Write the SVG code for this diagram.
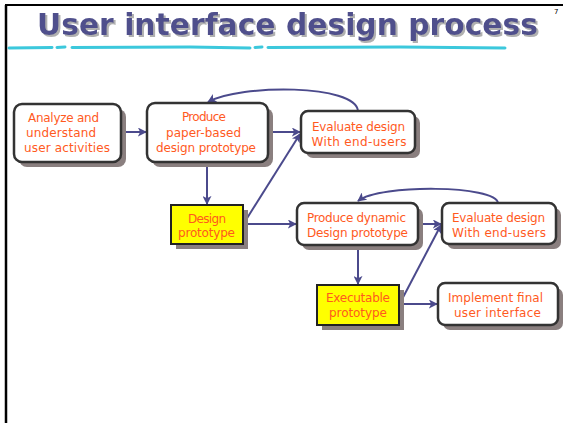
<svg xmlns="http://www.w3.org/2000/svg" width="563" height="423" viewBox="0 0 563 423">
<style>
.shadow{fill:#8a7f7f}
.box{fill:#ffffff;stroke:#333333;stroke-width:2.5}
.ybox{fill:#ffff00;stroke:#222222;stroke-width:2}
.lbl{font-family:"DejaVu Sans",sans-serif;font-size:12px;fill:#ff5a1e;text-anchor:middle}
.conn{fill:none;stroke:#4b4a8c;stroke-width:2}
</style>
<defs>
<marker id="arr" viewBox="0 0 10 10" refX="9" refY="5" markerWidth="9" markerHeight="9" markerUnits="userSpaceOnUse" orient="auto">
<path d="M0,0 L10,5 L0,10 L2.5,5 Z" fill="#4b4a8c"/>
</marker>
<filter id="tshadow" x="-5%" y="-20%" width="110%" height="140%">
<feDropShadow dx="2" dy="2" stdDeviation="0.5" flood-color="#b0b0b0" flood-opacity="1"/>
</filter>
</defs>
<rect width="563" height="423" fill="#ffffff"/>
<!-- frame -->
<path d="M5,5 H563" stroke="#000" stroke-width="2" fill="none"/>
<path d="M6,5 V423" stroke="#000" stroke-width="2.5" fill="none"/>
<!-- title -->
<g id="title">
<text x="37" y="35" font-family="DejaVu Sans,sans-serif" font-size="30" font-weight="bold" fill="#50508c" filter="url(#tshadow)" textLength="501" lengthAdjust="spacingAndGlyphs">User interface design process</text>
<path d="M9,48 L52,47.5 M57,47.5 L65,47 M72,47.5 L190,47 L250,48 M255,47.5 L262,47 M268,47.5 L400,47 L505,48" stroke="#3cc8dc" stroke-width="3" fill="none" stroke-linecap="round"/>
<text x="554" y="14" font-family="DejaVu Sans,sans-serif" font-size="7" fill="#000">7</text>
</g>
<!-- connectors -->
<g id="connectors">
<path class="conn" d="M121,132 H146" marker-end="url(#arr)"/>
<path class="conn" d="M268,132 H300" marker-end="url(#arr)"/>
<path class="conn" d="M244,223 L300,134" marker-end="url(#arr)"/>
<path class="conn" d="M358,111 C356,84 240,84 208,102" marker-end="url(#arr)"/>
<path class="conn" d="M207,162 V204" marker-end="url(#arr)"/>
<path class="conn" d="M243,224 H296" marker-end="url(#arr)"/>
<path class="conn" d="M418,224 H441" marker-end="url(#arr)"/>
<path class="conn" d="M399,305 L441,225" marker-end="url(#arr)"/>
<path class="conn" d="M498,203 C496,185 380,184 358,201" marker-end="url(#arr)"/>
<path class="conn" d="M358,245 V284" marker-end="url(#arr)"/>
<path class="conn" d="M399,304 H437" marker-end="url(#arr)"/>
</g>
<!-- nodes -->
<g id="analyze">
<rect class="shadow" x="19" y="109" width="107" height="58" rx="8"/>
<rect class="box" x="14" y="104" width="107" height="58" rx="8"/>
<text class="lbl" x="63.5" y="122" textLength="71" lengthAdjust="spacing">Analyze and</text>
<text class="lbl" x="61" y="137" textLength="70" lengthAdjust="spacing">understand</text>
<text class="lbl" x="67" y="152" textLength="86" lengthAdjust="spacing">user activities</text>
</g>
<g id="produce-paper">
<rect class="shadow" x="152" y="108" width="121" height="59" rx="8"/>
<rect class="box" x="147" y="103" width="121" height="59" rx="8"/>
<text class="lbl" x="204" y="121" textLength="44" lengthAdjust="spacing">Produce</text>
<text class="lbl" x="203.5" y="137" textLength="75" lengthAdjust="spacing">paper-based</text>
<text class="lbl" x="206" y="152" textLength="100" lengthAdjust="spacing">design prototype</text>
</g>
<g id="evaluate-1">
<rect class="shadow" x="306" y="116" width="114" height="42" rx="7"/>
<rect class="box" x="301" y="111" width="114" height="42" rx="7"/>
<text class="lbl" x="358.5" y="131" textLength="93" lengthAdjust="spacing">Evaluate design</text>
<text class="lbl" x="359" y="145.5" textLength="95" lengthAdjust="spacing">With end-users</text>
</g>
<g id="design-prototype">
<rect class="shadow" x="176" y="210" width="72" height="39"/>
<rect class="ybox" x="171" y="205" width="72" height="39"/>
<text class="lbl" x="207" y="223" textLength="38" lengthAdjust="spacing">Design</text>
<text class="lbl" x="206.5" y="237" textLength="57" lengthAdjust="spacing">prototype</text>
</g>
<g id="produce-dynamic">
<rect class="shadow" x="302" y="208" width="121" height="42" rx="7"/>
<rect class="box" x="297" y="203" width="121" height="42" rx="7"/>
<text class="lbl" x="356.5" y="222" textLength="99" lengthAdjust="spacing">Produce dynamic</text>
<text class="lbl" x="357.5" y="237" textLength="101" lengthAdjust="spacing">Design prototype</text>
</g>
<g id="evaluate-2">
<rect class="shadow" x="447" y="208" width="114" height="41" rx="7"/>
<rect class="box" x="442" y="203" width="114" height="41" rx="7"/>
<text class="lbl" x="498.5" y="222" textLength="93" lengthAdjust="spacing">Evaluate design</text>
<text class="lbl" x="499" y="237" textLength="94" lengthAdjust="spacing">With end-users</text>
</g>
<g id="executable-prototype">
<rect class="shadow" x="322" y="290" width="82" height="40"/>
<rect class="ybox" x="317" y="285" width="82" height="40"/>
<text class="lbl" x="358" y="302" textLength="64" lengthAdjust="spacing">Executable</text>
<text class="lbl" x="358" y="317" textLength="58" lengthAdjust="spacing">prototype</text>
</g>
<g id="implement">
<rect class="shadow" x="443" y="288" width="120" height="42" rx="7"/>
<rect class="box" x="438" y="283" width="120" height="42" rx="7"/>
<text class="lbl" x="495.5" y="302" textLength="95" lengthAdjust="spacing">Implement final</text>
<text class="lbl" x="497.5" y="317" textLength="87" lengthAdjust="spacing">user interface</text>
</g>
</svg>
